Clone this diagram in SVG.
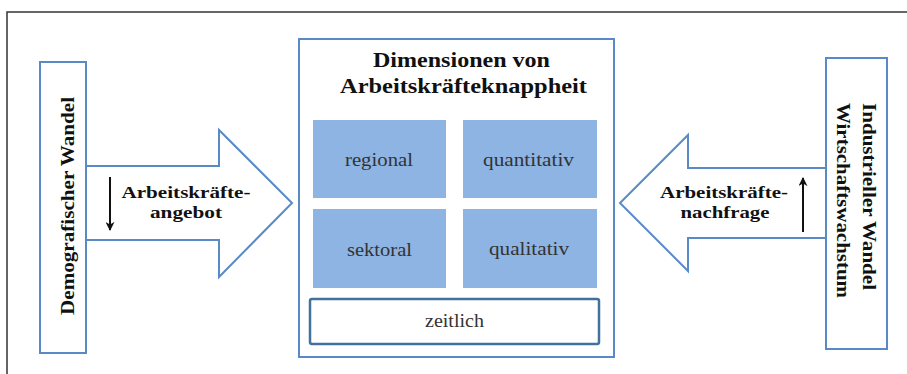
<svg xmlns="http://www.w3.org/2000/svg" width="907" height="374" viewBox="0 0 907 374">
<style>
.ol{fill:#fff;stroke:#5A8AC6;stroke-width:2}
.dim{fill:#8DB4E2;stroke:none}
.t{font-family:'Liberation Serif','DejaVu Serif',serif;fill:#333}
.b{font-weight:bold;fill:#111}
.c{text-anchor:middle}
.arr{stroke:#111;stroke-width:2;fill:none}
</style>
<defs>
<marker id="ah" viewBox="0 0 10 10" refX="9" refY="5" markerWidth="9" markerHeight="9" orient="auto-start-reverse" markerUnits="userSpaceOnUse">
<path d="M0,0 L10,5 L0,10 L3,5 z" fill="#111"/>
</marker>
</defs>
<rect width="907" height="374" fill="#fff"/>
<path d="M7,374 V12 H907" fill="none" stroke="#333" stroke-width="1.5"/>

<g id="connectors">
<g id="arrow-left">
<path class="ol" d="M86,166 H219 V130 L292,203 L219,277 V240 H86"/>
<text class="t b c" x="186" y="198" font-size="17" textLength="129" lengthAdjust="spacingAndGlyphs">Arbeitskräfte-</text>
<text class="t b c" x="186" y="218" font-size="17" textLength="72" lengthAdjust="spacingAndGlyphs">angebot</text>
<line class="arr" x1="110" y1="177" x2="110" y2="230" marker-end="url(#ah)"/>
</g>
<g id="arrow-right">
<path class="ol" d="M826,168 H688 V135 L620,203 L688,271 V238 H826"/>
<text class="t b c" x="724" y="198" font-size="17" textLength="128" lengthAdjust="spacingAndGlyphs">Arbeitskräfte-</text>
<text class="t b c" x="725" y="218" font-size="17" textLength="89" lengthAdjust="spacingAndGlyphs">nachfrage</text>
<line class="arr" x1="803" y1="232" x2="803" y2="178" marker-end="url(#ah)"/>
</g>
</g>

<g id="demografischer-wandel">
<rect class="ol" x="40" y="62" width="46" height="291"/>
<text class="t b c" transform="translate(74,206) rotate(-90)" font-size="19" textLength="218" lengthAdjust="spacingAndGlyphs">Demografischer Wandel</text>
</g>

<g id="industrieller-wandel">
<rect class="ol" x="826" y="58" width="61" height="291"/>
<text class="t b c" transform="translate(863,196.5) rotate(90)" font-size="19" textLength="187" lengthAdjust="spacingAndGlyphs">Industrieller Wandel</text>
<text class="t b c" transform="translate(837,200.5) rotate(90)" font-size="19" textLength="195" lengthAdjust="spacingAndGlyphs">Wirtschaftswachstum</text>
</g>

<g id="dimensionen">
<rect class="ol" x="299" y="39" width="315" height="318"/>
<text class="t b c" x="461.5" y="67" font-size="22" textLength="177" lengthAdjust="spacingAndGlyphs">Dimensionen von</text>
<text class="t b c" x="463.5" y="93" font-size="22" textLength="247" lengthAdjust="spacingAndGlyphs">Arbeitskräfteknappheit</text>
</g>

<g id="regional">
<rect class="dim" x="313" y="120" width="133" height="78"/>
<text class="t c" x="379" y="166" font-size="18" textLength="68" lengthAdjust="spacingAndGlyphs">regional</text>
</g>
<g id="quantitativ">
<rect class="dim" x="463" y="120" width="134" height="78"/>
<text class="t c" x="528.5" y="166" font-size="18" textLength="91" lengthAdjust="spacingAndGlyphs">quantitativ</text>
</g>
<g id="sektoral">
<rect class="dim" x="313" y="209" width="133" height="79"/>
<text class="t c" x="379.5" y="256" font-size="18" textLength="65" lengthAdjust="spacingAndGlyphs">sektoral</text>
</g>
<g id="qualitativ">
<rect class="dim" x="463" y="209" width="134" height="79"/>
<text class="t c" x="529" y="255" font-size="18" textLength="80" lengthAdjust="spacingAndGlyphs">qualitativ</text>
</g>
<g id="zeitlich">
<rect x="310" y="299" width="289" height="45" rx="2" fill="#fff" stroke="#41719C" stroke-width="2.5"/>
<text class="t c" x="454.5" y="327" font-size="18" textLength="59" lengthAdjust="spacingAndGlyphs">zeitlich</text>
</g>
</svg>
